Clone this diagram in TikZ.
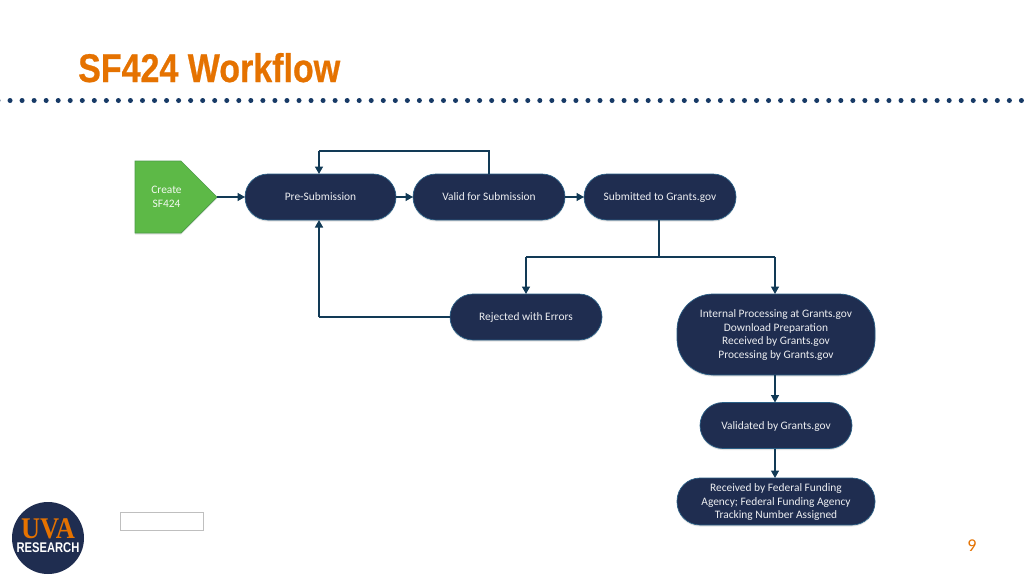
\documentclass[tikz,border=0pt]{standalone}
\usepackage{fontspec}
\setmainfont{Carlito}
\newfontfamily\titlefont[FakeStretch=0.85,BoldFeatures={FakeBold=0.6}]{Liberation Sans}
\newfontfamily\logofont[FakeStretch=0.8]{Liberation Sans}
\newfontfamily\uvafont[FakeStretch=0.88]{Liberation Serif}
\usetikzlibrary{shapes.symbols,arrows.meta,shadows}
\definecolor{navy}{HTML}{1F2D50}
\definecolor{edgeblue}{HTML}{2A5F86}
\definecolor{linkblue}{HTML}{123A56}
\definecolor{dotblue}{HTML}{173A66}
\definecolor{uvaorange}{HTML}{E57200}
\definecolor{boxgreen}{HTML}{5DB947}
\definecolor{boxgreenedge}{HTML}{4A9A48}
\newcommand{\downnudge}{\rule{0pt}{9pt}}
\tikzset{
  x=1pt,y=-1pt,
  softshadow/.style={drop shadow={opacity=.22,shadow xshift=0pt,shadow yshift=-1.5pt}},
  pill/.style={draw=edgeblue,line width=.7pt,fill=navy,text=white!92!navy,rectangle,
    rounded corners=#1,inner sep=0pt,outer sep=0pt,align=center,font=\fontsize{11.4}{13.6}\selectfont,softshadow},
  pill/.default=23pt,
  oneline/.style={text height=8.6pt,text depth=1.4pt},
  link/.style={draw=linkblue,line width=1.5pt},
  linkto/.style={link,-{Triangle[length=7.5pt,width=8pt]}},
}
\begin{document}
\begin{tikzpicture}
\useasboundingbox (0,0) rectangle (1024,576);
\fill[white] (0,0) rectangle (1024,576);
% title and dotted rule
\node[anchor=base west,inner sep=0pt,text=uvaorange,font=\titlefont\bfseries\fontsize{40}{42}\selectfont] (title) at (78,82) {SF424 Workflow};
\foreach \i in {0,...,85} {\fill[dotblue] ({-2+12.04*\i},100.5) circle (2.5);}
% flow nodes
\node[signal,signal to=east,signal pointer angle=90,draw=boxgreenedge,line width=.7pt,fill=boxgreen,
  minimum width=82pt,minimum height=72pt,inner sep=0pt,outer sep=0pt,softshadow,anchor=west] (create) at (135,197) {};
\node[text=white!92!boxgreen,align=center,font=\fontsize{11.4}{13.6}\selectfont,inner sep=0pt] (createlabel) at (166.5,197) {Create\\SF424};
\node[pill,oneline,minimum width=151pt,minimum height=46pt] (pre) at (320.5,197) {Pre-Submission};
\node[pill,oneline,minimum width=152pt,minimum height=46pt] (valid) at (489,197) {Valid for Submission};
\node[pill,oneline,minimum width=152pt,minimum height=46pt] (sub) at (660,197) {Submitted to Grants.gov};
\node[pill,oneline,minimum width=152pt,minimum height=46pt] (rej) at (526,317) {Rejected with Errors};
\node[pill=36pt,minimum width=198pt,minimum height=81pt] (int) at (776,334.5) {\downnudge Internal Processing at Grants.gov\\Download Preparation\\Received by Grants.gov\\Processing by Grants.gov};
\node[pill,oneline,minimum width=152pt,minimum height=46pt] (vld) at (776,425.5) {Validated by Grants.gov};
\node[pill,minimum width=198pt,minimum height=47pt] (rec) at (776,501.5) {\downnudge Received by Federal Funding\\Agency; Federal Funding Agency\\Tracking Number Assigned};
% connectors
\coordinate (branch) at (659,257);
\coordinate (validup) at (489,151);
\coordinate (preup) at (319,151);
\coordinate (rejcorner) at (319,317);
\coordinate (rejdrop) at (526,257);
\coordinate (intdrop) at (775,257);
\draw[linkto] (create.east) -- (pre.west);
\draw[linkto] (pre) -- (valid);
\draw[linkto] (valid) -- (sub);
\draw[link] (valid.north) -- (validup) -- (preup);
\draw[linkto] (preup) -- (pre.north -| preup);
\draw[link] (sub.south -| branch) -- (branch);
\draw[link] (rejdrop) -- (intdrop);
\draw[linkto] (rejdrop) -- (rej.north);
\draw[linkto] (intdrop) -- (int.north -| intdrop);
\draw[link] (rej.west) -- (rejcorner);
\draw[linkto] (rejcorner) -- (pre.south -| rejcorner);
\draw[linkto] (int.south -| intdrop) -- (vld.north -| intdrop);
\draw[linkto] (vld.south -| intdrop) -- (rec.north -| intdrop);
% logo, empty box, page number
\fill[navy] (48,538) circle (36);
\node[anchor=base,inner sep=0pt,text depth=0pt,text=uvaorange,font=\uvafont\bfseries\fontsize{30}{30}\selectfont] (uva) at (48,538) {UVA};
\node[anchor=base,inner sep=0pt,text height=10pt,text=white,font=\logofont\bfseries\fontsize{14}{15}\selectfont] (res) at (48,552) {RESEARCH};
\draw[draw=black!25,line width=.7pt] (120.5,512.5) rectangle (203.5,530.5);
\node[inner sep=0pt,text=uvaorange,font=\fontsize{18}{20}\selectfont] (page) at (972,546) {9};
\end{tikzpicture}
\end{document}
